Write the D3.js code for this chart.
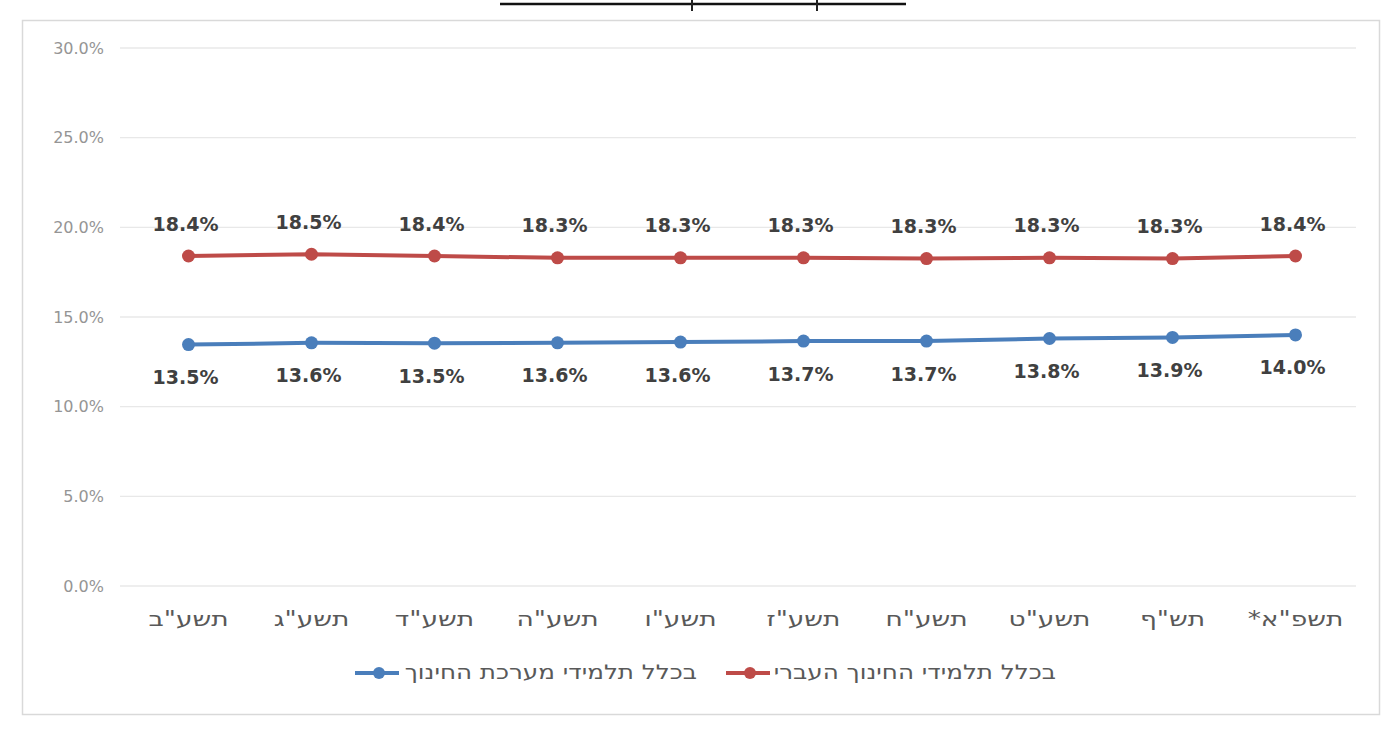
<!DOCTYPE html>
<html>
<head>
<meta charset="utf-8">
<script src="https://cdn.jsdelivr.net/npm/d3@7"></script>
<style>
  body { margin: 0; background: #fff; }
  svg { display: block; }
</style>
</head>
<body>
<div id="chart"></div>
<script>
const years = ['תשע"ב', 'תשע"ג', 'תשע"ד', 'תשע"ה', 'תשע"ו', 'תשע"ז', 'תשע"ח', 'תשע"ט', 'תש"ף', 'תשפ"א*'];
const hebrewEd = [18.4, 18.5, 18.4, 18.3, 18.3, 18.3, 18.26, 18.3, 18.26, 18.4];
const allEd = [13.46, 13.56, 13.54, 13.56, 13.6, 13.66, 13.66, 13.8, 13.86, 14.0];
const yTicks = [0, 5, 10, 15, 20, 25, 30];
const seriesNames = ["בכלל תלמידי מערכת החינוך", "בכלל תלמידי החינוך העברי"];

const width = 1400, height = 735;
const blue = "#4a7ebb", red = "#be4b48";
const font = "'DejaVu Sans', 'Liberation Sans', sans-serif";

const svg = d3.select("#chart").append("svg")
  .attr("width", width)
  .attr("height", height);

// cut-off title underline at the top
svg.append("line").attr("x1", 500).attr("x2", 906).attr("y1", 4).attr("y2", 4)
  .attr("stroke", "#111").attr("stroke-width", 2.5);
[692, 817].forEach(x => svg.append("line").attr("x1", x).attr("x2", x)
  .attr("y1", 0).attr("y2", 11).attr("stroke", "#222").attr("stroke-width", 2));

// chart frame
svg.append("rect")
  .attr("x", 22.5).attr("y", 20.5)
  .attr("width", 1357).attr("height", 694)
  .attr("fill", "#fff").attr("stroke", "#d9d9d9").attr("stroke-width", 1.5);

const x = d3.scaleBand().domain(years).range([127, 1357]);
const y = d3.scaleLinear().domain([0, 30]).range([586, 48]);

// gridlines
svg.append("g")
  .selectAll("line")
  .data(yTicks)
  .join("line")
  .attr("x1", 120).attr("x2", 1356)
  .attr("y1", d => y(d)).attr("y2", d => y(d))
  .attr("stroke", "#e8e8e8").attr("stroke-width", 1.3);

// y axis labels
const yAxis = svg.append("g")
  .attr("transform", "translate(104,0)")
  .call(d3.axisLeft(y).tickValues(yTicks).tickSize(0).tickPadding(0)
    .tickFormat(d => d.toFixed(1) + "%"));
yAxis.select(".domain").remove();
yAxis.selectAll("text")
  .style("font-family", font)
  .style("font-size", "16px")
  .style("fill", "#959595");

// x axis labels (the Hebrew face in the source is wider, so stretch it)
const xAxis = svg.append("g")
  .attr("transform", "translate(0,600)")
  .call(d3.axisBottom(x).tickSize(0).tickPadding(11));
xAxis.select(".domain").remove();
xAxis.selectAll("text")
  .attr("direction", "rtl")
  .attr("transform", "scale(1.26,1)")
  .style("font-family", font)
  .style("font-size", "21px")
  .style("fill", "#595959");

const cx = d => x(d) + x.bandwidth() / 2;
const line = d3.line().x(d => cx(d.year)).y(d => y(d.value));

const series = [
  { name: seriesNames[1], color: red, values: hebrewEd, dy: -31 },
  { name: seriesNames[0], color: blue, values: allEd, dy: 34 }
];

series.forEach(s => {
  const pts = years.map((yr, i) => ({ year: yr, value: s.values[i] }));
  const g = svg.append("g");
  g.append("path")
    .datum(pts)
    .attr("d", line)
    .attr("fill", "none")
    .attr("stroke", s.color)
    .attr("stroke-width", 4);
  g.selectAll("circle")
    .data(pts)
    .join("circle")
    .attr("cx", d => cx(d.year))
    .attr("cy", d => y(d.value))
    .attr("r", 6.5)
    .attr("fill", s.color);
  g.selectAll("text")
    .data(pts)
    .join("text")
    .attr("x", d => cx(d.year) - 3)
    .attr("y", d => y(d.value) + s.dy)
    .attr("text-anchor", "middle")
    .attr("dominant-baseline", "middle")
    .style("font-family", font)
    .style("font-weight", "bold")
    .style("font-size", "19px")
    .style("fill", "#404040")
    .text(d => d.value.toFixed(1) + "%");
});

// legend
const legendItems = [
  { name: seriesNames[0], color: blue, lx: 355, textRight: 697 },
  { name: seriesNames[1], color: red, lx: 726, textRight: 1056 }
];
const lg = svg.append("g").attr("transform", "translate(0,673)");
legendItems.forEach(l => {
  lg.append("line")
    .attr("x1", l.lx).attr("x2", l.lx + 44)
    .attr("stroke", l.color).attr("stroke-width", 4);
  lg.append("circle")
    .attr("cx", l.lx + 24).attr("r", 6).attr("fill", l.color);
  lg.append("text")
    .attr("transform", `translate(${l.textRight},0) scale(1.23,1)`)
    .attr("direction", "rtl")
    .attr("dominant-baseline", "middle")
    .style("font-family", font)
    .style("font-size", "20px")
    .style("fill", "#595959")
    .text(l.name);
});
</script>
</body>
</html>
